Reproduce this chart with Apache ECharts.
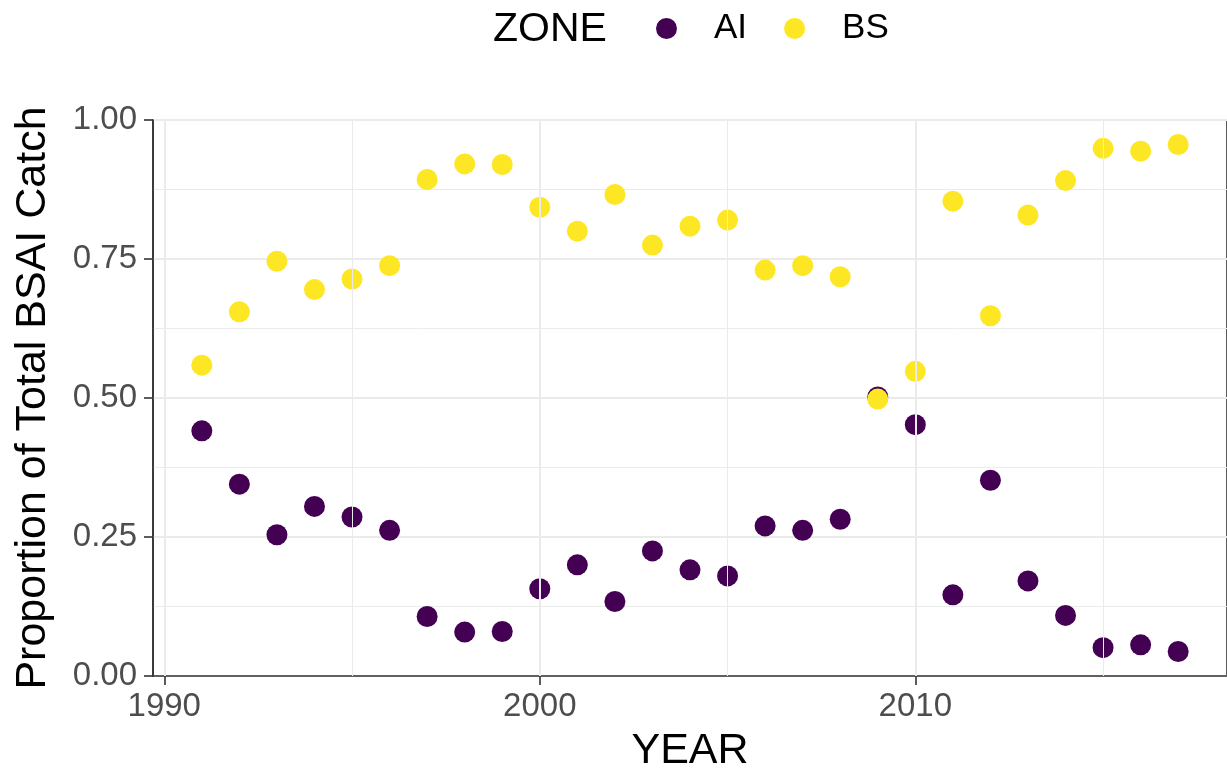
<!DOCTYPE html>
<html>
<head>
<meta charset="utf-8">
<script src="https://cdn.jsdelivr.net/npm/echarts@6/dist/echarts.min.js"></script>
<style>
html,body{margin:0;padding:0;background:#fff;}
#chart{width:1227px;height:778px;}
</style>
</head>
<body>
<div id="chart"></div>
<script>
const years = [1991,1992,1993,1994,1995,1996,1997,1998,1999,2000,2001,2002,2003,2004,2005,2006,2007,2008,2009,2010,2011,2012,2013,2014,2015,2016,2017];
const aiValues = [0.441,0.345,0.254,0.305,0.286,0.262,0.107,0.079,0.080,0.157,0.200,0.134,0.225,0.191,0.180,0.270,0.262,0.282,0.502,0.452,0.146,0.352,0.171,0.109,0.051,0.056,0.044];
const bsValues = [0.559,0.655,0.746,0.695,0.714,0.738,0.893,0.921,0.920,0.843,0.800,0.866,0.775,0.809,0.820,0.730,0.738,0.718,0.498,0.548,0.854,0.648,0.829,0.891,0.949,0.944,0.956];
const xTickLabels = [1990, 2000, 2010];
const xMinorTicks = [1995, 2005, 2015];
const seriesNames = ['AI', 'BS'];
const seriesColors = ['#440154', '#FDE725'];

const FONT = '"Liberation Sans", Arial, sans-serif';
const chart = echarts.init(document.getElementById('chart'), null, {renderer: 'canvas'});

const gridLines = [];
xTickLabels.forEach(v => gridLines.push({xAxis: v, lineStyle: {color: '#EBEBEB', width: 2, type: 'solid'}}));
xMinorTicks.forEach(v => gridLines.push({xAxis: v, lineStyle: {color: '#EBEBEB', width: 1, type: 'solid'}}));

const option = {
  animation: false,
  backgroundColor: '#ffffff',
  textStyle: {fontFamily: FONT},
  title: {
    text: 'ZONE', left: 488, top: 4,
    textStyle: {fontFamily: FONT, fontSize: 41, fontWeight: 'normal', color: '#000', lineHeight: 42}
  },
  legend: {
    data: seriesNames,
    left: 651, top: 6,
    icon: 'circle',
    itemWidth: 21, itemHeight: 21,
    itemGap: 37,
    textStyle: {fontFamily: FONT, fontSize: 35, color: '#000', padding: [0, 0, 0, 32]}
  },
  grid: {left: 153, right: 0, top: 120, bottom: 98, show: true, borderColor: '#333333', borderWidth: 1.6, backgroundColor: 'transparent'},
  xAxis: {
    type: 'value', min: 1989.7, max: 2018.3,
    name: 'YEAR', nameLocation: 'middle', nameGap: 54,
    nameTextStyle: {fontFamily: FONT, fontSize: 43, color: '#000'},
    axisLine: {show: true, lineStyle: {color: '#333333', width: 1.6}},
    axisTick: {show: true, length: 9, customValues: xTickLabels, lineStyle: {color: '#333333', width: 1.6}},
    axisLabel: {show: true, customValues: xTickLabels, margin: 14, fontSize: 33, color: '#4D4D4D', fontFamily: FONT, formatter: v => String(v)},
    splitLine: {show: false}
  },
  yAxis: {
    type: 'value', min: 0, max: 1, interval: 0.25,
    name: 'Proportion of Total BSAI Catch', nameLocation: 'middle', nameGap: 98,
    nameTextStyle: {fontFamily: FONT, fontSize: 43, color: '#000'},
    axisLine: {show: true, lineStyle: {color: '#333333', width: 1.6}},
    axisTick: {show: true, length: 9, lineStyle: {color: '#333333', width: 1.6}},
    axisLabel: {margin: 16, fontSize: 33, color: '#4D4D4D', fontFamily: FONT, formatter: v => v.toFixed(2)},
    splitLine: {show: true, lineStyle: {color: '#EBEBEB', width: 2}},
    minorTick: {show: false, splitNumber: 2},
    minorSplitLine: {show: true, lineStyle: {color: '#EBEBEB', width: 1}}
  },
  series: [
    {
      name: 'gridx', type: 'scatter', data: [], z: 1, silent: true,
      markLine: {silent: true, symbol: ['none', 'none'], label: {show: false}, animation: false, data: gridLines}
    },
    {
      name: seriesNames[0], type: 'scatter', z: 3, symbol: 'circle', symbolSize: 21,
      itemStyle: {color: seriesColors[0], opacity: 1},
      data: years.map((y, i) => [y, aiValues[i]])
    },
    {
      name: seriesNames[1], type: 'scatter', z: 4, symbol: 'circle', symbolSize: 21,
      itemStyle: {color: seriesColors[1], opacity: 1},
      data: years.map((y, i) => [y, bsValues[i]])
    }
  ]
};
chart.setOption(option);
</script>
</body>
</html>
